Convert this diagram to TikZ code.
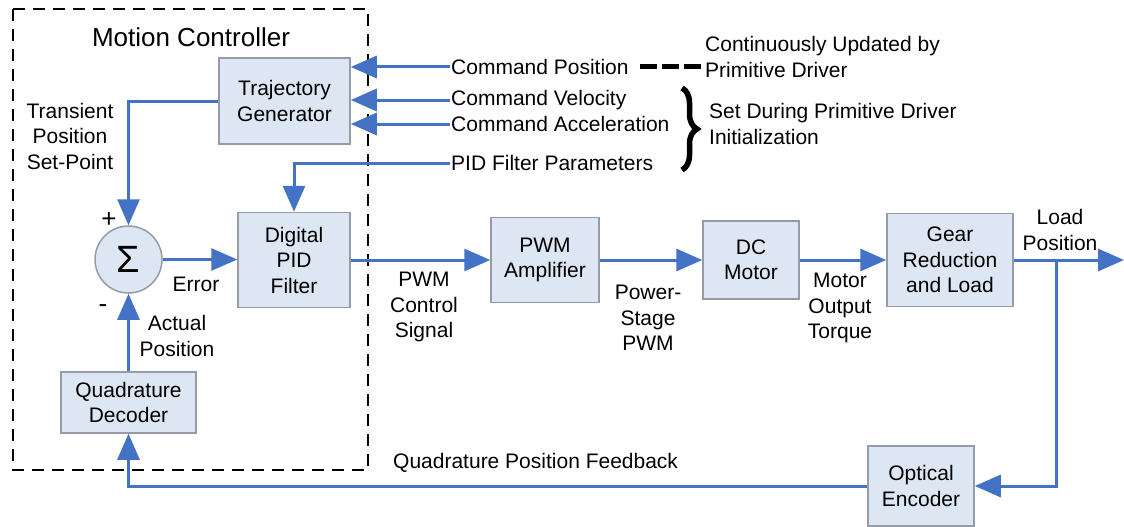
\documentclass[tikz,border=0pt]{standalone}
\usepackage{fontspec}
\setmainfont{Liberation Sans}
\usetikzlibrary{arrows.meta,decorations.pathreplacing}
\definecolor{boxfill}{RGB}{221,230,243}
\definecolor{boxline}{RGB}{150,155,165}
\definecolor{flowblue}{RGB}{68,114,196}
\tikzset{
  txt/.style={font=\fontsize{21}{25.5}\selectfont},
  block/.style={txt,draw=boxline,fill=boxfill,line width=1.5pt,align=center,inner sep=0pt},
  sumnode/.style={circle,draw=boxline,fill=boxfill,line width=1.5pt,minimum size=67pt,inner sep=0pt,font=\fontsize{38}{38}\selectfont},
  lbl/.style={txt,align=center,inner sep=1pt},
  sign/.style={inner sep=0pt,font=\fontsize{26}{26}\selectfont},
  flow/.style={draw=flowblue,line width=3pt,-{Triangle[length=26pt,width=22pt]}},
  ctrlbox/.style={draw=black,line width=1.5pt,dash pattern=on 12pt off 8pt}
}
\begin{document}
\begin{tikzpicture}[x=1pt,y=-1pt]
\useasboundingbox (0,0) rectangle (1124,527);
\draw[ctrlbox] (13,9) rectangle (368,470);
\node[lbl] (title) at (191,37) {\fontsize{26}{30}\selectfont Motion Controller};

\node[block,minimum width=131pt,minimum height=86pt] (tg) at (284.5,101) {Trajectory\\Generator};
\node[sumnode] (sum) at (128.5,259.5) {Σ};
\node[block,minimum width=112pt,minimum height=95pt] (pid) at (294,260) {Digital\\PID\\Filter};
\node[block,minimum width=135pt,minimum height=61pt] (qd) at (128.5,402.5) {Quadrature\\Decoder};
\node[block,minimum width=108pt,minimum height=85pt] (pwm) at (545,260) {PWM\\Amplifier};
\node[block,minimum width=96pt,minimum height=78pt] (dc) at (751,260) {DC\\Motor};
\node[block,minimum width=126pt,minimum height=93pt] (gear) at (950,260) {Gear\\Reduction\\and Load};
\node[block,minimum width=106pt,minimum height=80pt] (enc) at (921,486) {Optical\\Encoder};

\node[lbl,anchor=west] (cpos) at (450,67) {Command Position};
\node[lbl,anchor=west] (cvel) at (450,100) {Command Velocity};
\node[lbl,anchor=west] (cacc) at (450,124) {Command Acceleration};
\node[lbl,anchor=west] (ppar) at (450,163) {PID Filter Parameters};
\node[lbl,anchor=west,align=left] (cont) at (704,57) {Continuously Updated by\\Primitive Driver};
\node[lbl,anchor=west,align=left] (init) at (708,124) {Set During Primitive Driver\\Initialization};
\coordinate (dstart) at (640,67);
\coordinate (dend) at (702,67);
\draw[line width=5pt,dash pattern=on 17pt off 5pt] (dstart) -- (dend);
\draw[line width=5.5pt,decorate,decoration={brace,amplitude=15pt}] (682,88) -- (682,170);

\node[lbl] (tps) at (70,136) {Transient\\Position\\Set-Point};
\node[sign] (plus) at (109,220) {+};
\node[sign] (minus) at (103,309) {-};
\node[lbl] (err) at (196,284) {Error};
\node[lbl] (act) at (177,336) {Actual\\Position};
\node[lbl] (pcs) at (424,307) {PWM\\Control\\Signal};
\node[lbl] (psp) at (648,318) {Power-\\Stage\\PWM};
\node[lbl] (mot) at (840,308) {Motor\\Output\\Torque};
\node[lbl] (lpos) at (1060,230) {Load\\Position};
\node[lbl,anchor=west] (qpf) at (392,463) {Quadrature Position Feedback};

\coordinate (tap) at (1056,260);
\coordinate (out) at (1124,260);

\draw[flow] (cpos.west) -- (cpos.west -| tg.east);
\draw[flow] (cvel.west) -- (cvel.west -| tg.east);
\draw[flow] (cacc.west) -- (cacc.west -| tg.east);
\draw[flow] (ppar.west) -| (pid.north);
\draw[flow] (tg.west) -| (sum.north);
\draw[flow] (sum.east) -- (sum.east -| pid.west);
\draw[flow] (pid.east) -- (pwm.west);
\draw[flow] (pwm.east) -- (dc.west);
\draw[flow] (dc.east) -- (gear.west);
\draw[flow] (gear.east) -- (out);
\draw[flow] (tap) |- (enc.east);
\draw[flow] (enc.west) -| (qd.south);
\draw[flow] (qd.north) -- (sum.south);
\end{tikzpicture}
\end{document}
